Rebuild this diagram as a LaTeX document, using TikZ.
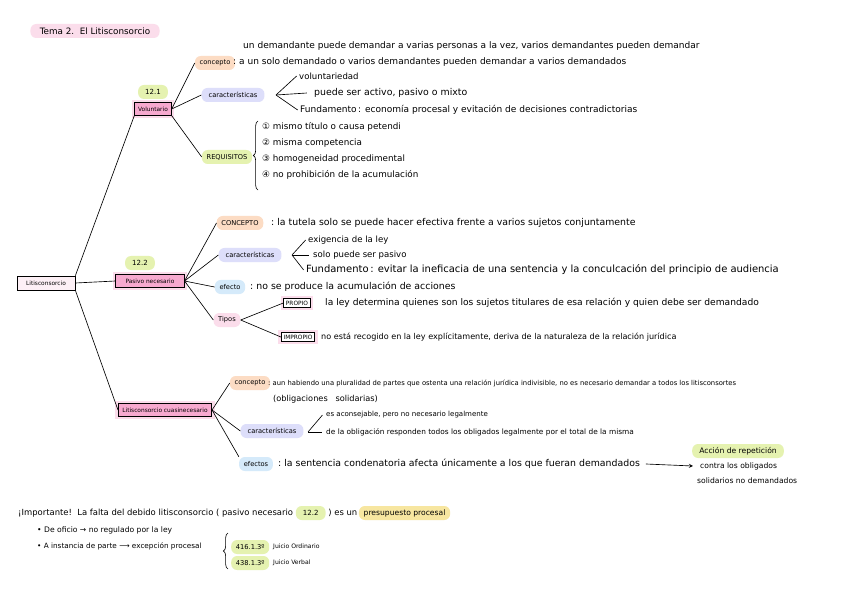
\documentclass[tikz,border=0pt]{standalone}
\usepackage{fontspec}
\setmainfont{DejaVu Sans}
\usepackage{xcolor}
\usepackage{tikz}
\usetikzlibrary{arrows, positioning, decorations.pathreplacing}

\definecolor{hlorange}{HTML}{FCDCC4}
\definecolor{hlblue}{HTML}{DDDEFA}
\definecolor{hlgreen}{HTML}{E5F2B0}
\definecolor{hlsky}{HTML}{D5EAFA}
\definecolor{hlpink}{HTML}{FBDDEB}
\definecolor{hlyellow}{HTML}{F7E6A0}
\definecolor{boxpink}{HTML}{F7A9CF}
\definecolor{rootpink}{HTML}{FDF0F6}

\begin{document}
\begin{tikzpicture}[
    x=0.03cm, y=-0.03cm,
    hl/.style={rounded corners=5pt, inner xsep=4pt, inner ysep=2.5pt,
      minimum height=0.42cm, font=\fontsize{5.7}{6}\selectfont},
    numtag/.style={hl, fill=hlgreen, inner xsep=6pt, font=\fontsize{6}{7}\selectfont},
    mainbox/.style={draw, fill=boxpink, line width=0.6pt, inner xsep=3pt,
      inner ysep=3.5pt, font=\fontsize{5}{6}\selectfont,
      preaction={draw=hlpink, line width=5pt}},
    rootbox/.style={draw, fill=rootpink, line width=0.6pt, inner xsep=3pt,
      inner ysep=4pt, minimum width=1.74cm, font=\fontsize{5}{6}\selectfont},
    tagbox/.style={draw, fill=white, line width=0.6pt, inner xsep=2pt,
      inner ysep=2pt, font=\fontsize{5}{6}\selectfont,
      preaction={draw=hlpink, line width=5pt}},
    txt/.style={anchor=west, inner sep=0pt, font=\fontsize{7.5}{9}\selectfont},
    smalltxt/.style={anchor=west, inner sep=0pt, font=\fontsize{6}{7}\selectfont},
    branch/.style={line width=0.55pt},
    arrow/.style={line width=0.55pt,->,>=stealth},
    curly/.style={decorate, decoration={brace, amplitude=4pt}, line width=0.55pt}
]
\fill[white] (0,0) rectangle (848,599);
\useasboundingbox (0,0) rectangle (848,599);

% Title
\node[hl, fill=hlpink, inner xsep=8pt, font=\fontsize{7.5}{9}\selectfont] (title) at (95,31) {Tema 2.\ \ El Litisconsorcio};

% Root
\node[rootbox] (root) at (46,283) {Litisconsorcio};

% 12.1 Voluntario
\node[mainbox] (vol) at (153,109) {Voluntario};
\node[numtag] (n121) at (153,92) {12.1};
\node[hl, fill=hlorange] (vcon) at (215,63) {concepto};
\node[txt, font=\fontsize{7.7}{9}\selectfont] (vcon1) at (243,46) {un demandante puede demandar a varias personas a la vez, varios demandantes pueden demandar};
\node[txt, font=\fontsize{7.7}{9}\selectfont] (vcon2) at (233,62) {:\ a un solo demandado o varios demandantes pueden demandar a varios demandados};
\node[hl, fill=hlblue, inner xsep=6pt] (vcar) at (233,95) {características};
\coordinate (vfork) at (276,95);
\node[txt, font=\fontsize{7.3}{8}\selectfont] (vcar1) at (299,76) {voluntariedad};
\node[txt, font=\fontsize{8}{8}\selectfont] (vcar2) at (314,93) {puede ser activo, pasivo o mixto};
\node[txt, font=\fontsize{7.7}{9}\selectfont] (vcar3) at (300,110) {Fundamento\,: economía procesal y evitación de decisiones contradictorias};
\node[hl, fill=hlgreen] (vreq) at (227,157) {REQUISITOS};
\coordinate (vbrtop) at (258,121);
\coordinate (vbrbot) at (258,190);
\node[smalltxt, font=\fontsize{7.5}{8}\selectfont] (req1) at (262,127) {① mismo título o causa petendi};
\node[smalltxt, font=\fontsize{7.5}{8}\selectfont] (req2) at (262,143) {② misma competencia};
\node[smalltxt, font=\fontsize{7.5}{8}\selectfont] (req3) at (262,159) {③ homogeneidad procedimental};
\node[smalltxt, font=\fontsize{7.5}{8}\selectfont] (req4) at (262,175) {④ no prohibición de la acumulación};

% 12.2 Pasivo necesario
\node[mainbox, minimum width=2.05cm] (pas) at (150,281) {Pasivo necesario};
\node[numtag] (n122) at (140,263) {12.2};
\node[hl, fill=hlorange] (pcon) at (240,223) {CONCEPTO};
\node[txt, font=\fontsize{8}{9}\selectfont] (pcon1) at (271,223) {:\ la tutela solo se puede hacer efectiva frente a varios sujetos conjuntamente};
\node[hl, fill=hlblue, inner xsep=6pt] (pcar) at (250,255) {características};
\coordinate (pfork) at (292,255);
\node[txt, font=\fontsize{7.3}{8}\selectfont] (pcar1) at (308,240) {exigencia de la ley};
\node[txt, font=\fontsize{7.3}{8}\selectfont] (pcar2) at (313,255) {solo puede ser pasivo};
\node[txt, font=\fontsize{8.5}{9}\selectfont] (pcar3) at (306,270) {Fundamento\,: evitar la ineficacia de una sentencia y la conculcación del principio de audiencia};
\node[hl, fill=hlsky] (pefe) at (230,287) {efecto};
\node[txt, font=\fontsize{8}{9}\selectfont] (pefe1) at (250,287) {:\ no se produce la acumulación de acciones};
\node[hl, fill=hlpink] (ptip) at (227,320) {Tipos};
\node[tagbox] (propio) at (297,303) {PROPIO};
\node[txt, font=\fontsize{7.8}{9}\selectfont] (propio1) at (325,303) {la ley determina quienes son los sujetos titulares de esa relación y quien debe ser demandado};
\node[tagbox] (impropio) at (298,337) {IMPROPIO};
\node[txt, font=\fontsize{6.9}{8}\selectfont] (impropio1) at (321,337) {no está recogido en la ley explícitamente, deriva de la naturaleza de la relación jurídica};

% Litisconsorcio cuasinecesario
\node[mainbox, minimum width=2.8cm] (cua) at (165,410) {Litisconsorcio cuasinecesario};
\node[hl, fill=hlorange] (ccon) at (250,383) {concepto};
\node[txt, font=\fontsize{5.8}{7}\selectfont] (ccon1) at (268,383) {:\ aun habiendo una pluralidad de partes que ostenta una relación jurídica indivisible, no es necesario demandar a todos los litisconsortes};
\node[smalltxt, font=\fontsize{7}{8}\selectfont] (ccon2) at (273,399) {(obligaciones\ \ \ solidarias)};
\node[hl, fill=hlblue, inner xsep=6pt] (ccar) at (272,431) {características};
\coordinate (cfork) at (308,432);
\node[smalltxt] (ccar1) at (326,415) {es aconsejable, pero no necesario legalmente};
\node[smalltxt, font=\fontsize{6.3}{7}\selectfont] (ccar2) at (326,432) {de la obligación responden todos los obligados legalmente por el total de la misma};
\node[hl, fill=hlsky] (cefe) at (256,464) {efectos};
\node[txt, font=\fontsize{8}{9}\selectfont] (cefe1) at (278,464) {:\ la sentencia condenatoria afecta únicamente a los que fueran demandados};
\node[hl, fill=hlgreen, inner xsep=6pt, font=\fontsize{6.5}{7}\selectfont] (rep) at (738,451) {Acción de repetición};
\node[smalltxt, font=\fontsize{6.5}{7}\selectfont] (rep1) at (700,466) {contra los obligados};
\node[smalltxt, font=\fontsize{6.5}{7}\selectfont] (rep2) at (697,481) {solidarios no demandados};

% Bottom note
\node[smalltxt, font=\fontsize{7.2}{8}\selectfont] (imp1) at (18,513) {¡Importante!\ \ La falta del debido litisconsorcio (\ pasivo necesario};
\node[numtag, right=2pt of imp1] (imp2) {12.2};
\node[smalltxt, font=\fontsize{7.2}{8}\selectfont, right=2pt of imp2] (imp3) {)\ es un};
\node[hl, fill=hlyellow, font=\fontsize{6.5}{7}\selectfont, right=1pt of imp3] (imp4) {presupuesto procesal};
\node[smalltxt, font=\fontsize{6.5}{7}\selectfont] (ofi) at (37,530) {• De oficio → no regulado por la ley};
\node[smalltxt, font=\fontsize{6.2}{7}\selectfont] (ins) at (37,546) {• A instancia de parte ⟶ excepción procesal};
\coordinate (ibrtop) at (228,533);
\coordinate (ibrbot) at (228,569);
\node[hl, fill=hlgreen, anchor=west] (art1) at (231,547) {416.1.3º};
\node[smalltxt, font=\fontsize{5.2}{6}\selectfont, right=3pt of art1] (jo) {Juicio Ordinario};
\node[hl, fill=hlgreen, anchor=west] (art2) at (231,563) {438.1.3º};
\node[smalltxt, font=\fontsize{5.2}{6}\selectfont, right=3pt of art2] (jv) {Juicio Verbal};

% Connectors
\draw[branch] (root.north east) -- (vol.south west);
\draw[branch] (root.east) -- (pas.west);
\draw[branch] (root.south east) -- (cua.west);

\draw[branch] (vol.east) -- (vcon.west);
\draw[branch] (vol.east) -- (vcar.west);
\draw[branch] (vol.south east) -- (vreq.west);
\draw[branch] (vfork) -- ([xshift=-2pt]vcar1.west);
\draw[branch] (vfork) -- ([xshift=-6pt]vcar2.west);
\draw[branch] (vfork) -- ([xshift=-2pt]vcar3.west);
\draw[curly] (vbrbot) -- (vbrtop);

\draw[branch] (pas.east) -- (pcon.west);
\draw[branch] (pas.east) -- (pcar.west);
\draw[branch] (pas.east) -- (pefe.west);
\draw[branch] (pas.east) -- (ptip.west);
\draw[branch] (pfork) -- ([xshift=-2pt]pcar1.west);
\draw[branch] (pfork) -- ([xshift=-3pt]pcar2.west);
\draw[branch] (pfork) -- ([xshift=-2pt]pcar3.west);
\draw[branch] (ptip.east) -- (propio.west);
\draw[branch] (ptip.east) -- (impropio.west);

\draw[branch] (cua.east) -- (ccon.west);
\draw[branch] (cua.east) -- (ccar.west);
\draw[branch] (cua.east) -- (cefe.north west);
\draw[branch] (cfork) -- ([xshift=-3pt]ccar1.west);
\draw[branch] (cfork) -- ([xshift=-3pt]ccar2.west);
\draw[arrow] ([xshift=5pt]cefe1.east) -- ([xshift=-6pt]rep1.west);

\draw[curly] (ibrbot) -- (ibrtop);

\end{tikzpicture}
\end{document}
